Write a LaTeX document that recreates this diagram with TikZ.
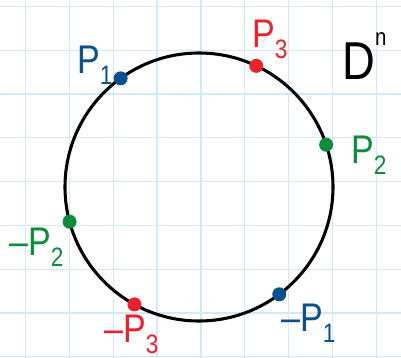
\documentclass[tikz,border=0pt]{standalone}
\usepackage{fontspec}
\setmainfont{Liberation Sans}[FakeStretch=0.85]
\definecolor{pblue}{HTML}{0B4F8C}
\definecolor{pred}{HTML}{E8232D}
\definecolor{pgreen}{HTML}{0E8B3C}
\definecolor{gridblue}{HTML}{D2E9FA}
\newcommand\lowsub[1]{\raisebox{-0.28em}{\fontsize{20}{20}\selectfont #1}}
\tikzset{
  pt/.style={circle, inner sep=0pt, minimum size=10.5pt},
  lab/.style={inner sep=0pt, anchor=base west, font=\fontsize{30}{32}\selectfont},
  gridline/.style={gridblue, line width=0.9pt},
  rim/.style={black, line width=2.3pt}
}
\begin{document}
\begin{tikzpicture}[x=0.75pt, y=-0.75pt]
\useasboundingbox (0,0) rectangle (401,358);
\fill[white] (0,0) rectangle (401,358);
% grid paper
\foreach \i in {0,...,8} {
  \draw[gridline] ({25.3+43.9*\i},0) -- ({25.3+43.9*\i},358);
  \draw[gridline] (0,{6.3+43.8*\i}) -- (401,{6.3+43.8*\i});
}
% the disc boundary
\coordinate (c) at (199,187);
\draw[rim] (c) circle[radius=134];
% points on the boundary
\node[pt, fill=pblue]  (p1)  at ([shift={(-125.8:134)}]c) {};
\node[pt, fill=pred]   (p3)  at ([shift={(-64.7:134)}]c) {};
\node[pt, fill=pgreen] (p2)  at ([shift={(-18.4:134)}]c) {};
\node[pt, fill=pgreen] (mp2) at ([shift={(-195:134)}]c) {};
\node[pt, fill=pred]   (mp3) at ([shift={(-241.2:134)}]c) {};
\node[pt, fill=pblue]  (mp1) at ([shift={(-306.8:134)}]c) {};
% labels
\node[lab, text=pblue]  (lp1)  at (77,73)   {P\lowsub{1}};
\node[lab, text=pred]   (lp3)  at (252,47)  {P\lowsub{3}};
\node[lab, text=pgreen] (lp2)  at (351,163) {P\lowsub{2}};
\node[lab, text=pgreen] (lmp2) at (9,255)   {–P\lowsub{2}};
\node[lab, text=pred]   (lmp3) at (104,342) {–P\lowsub{3}};
\node[lab, text=pblue]  (lmp1) at (281,331) {–P\lowsub{1}};
\node[lab, text=black, font=\fontsize{40}{42}\selectfont] (dn) at (342,79)
  {D\raisebox{25pt}{\fontsize{18}{18}\selectfont n}};
\end{tikzpicture}
\end{document}
